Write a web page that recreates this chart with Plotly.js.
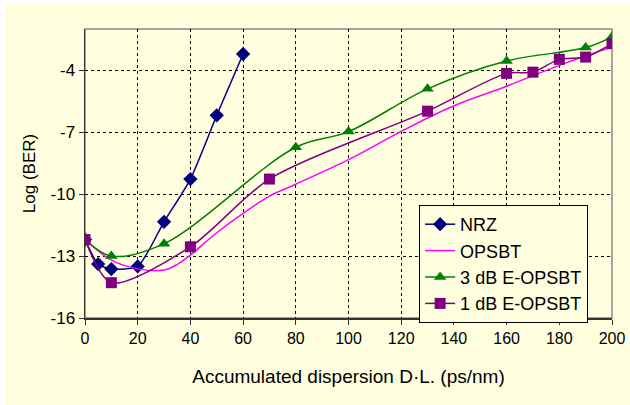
<!DOCTYPE html>
<html>
<head>
<meta charset="utf-8">
<script src="https://cdn.plot.ly/plotly-3.0.1.min.js"></script>
<style>
html,body{margin:0;padding:0;background:#ffffff;}
#chart{position:absolute;left:6px;top:4px;width:624px;height:401px;}
</style>
</head>
<body>
<div id="chart"></div>
<script>
// Data
const nrzX = [0, 5, 10, 20, 30, 40, 50, 60];
const nrzY = [-12.2, -13.39, -13.63, -13.5, -11.34, -9.27, -6.18, -3.21];

const opsbtX = [0, 10, 20, 30, 35, 40, 50, 60, 70, 80, 100, 120, 140, 160, 180, 200];
const opsbtY = [-12.2, -13.2, -13.62, -13.68, -13.4, -12.95, -11.87, -10.93, -10.1, -9.52, -8.33, -6.96, -5.72, -4.77, -3.76, -2.87];

const e3X = [0, 10, 30, 80, 100, 130, 160, 190, 200];
const e3Y = [-12.2, -13.0, -12.4, -7.73, -6.97, -4.9, -3.55, -2.9, -2.38];

const e1X = [0, 10, 40, 70, 130, 160, 170, 180, 190, 200];
const e1Y = [-12.2, -14.29, -12.55, -9.27, -5.98, -4.15, -4.09, -3.47, -3.36, -2.71];

const names = ['NRZ', 'OPSBT', '3 dB E-OPSBT', '1 dB E-OPSBT'];
const xTicks = [0, 20, 40, 60, 80, 100, 120, 140, 160, 180, 200];
const yTicks = [-16, -13, -10, -7, -4];

const bg = '#FFFFE0';
const font = 'Liberation Sans, Arial, sans-serif';

const traces = [
  {x: nrzX, y: nrzY, name: names[0], type: 'scatter', mode: 'lines+markers',
   line: {color: '#000080', width: 1.5, shape: 'spline', smoothing: 0.6},
   marker: {symbol: 'diamond', size: 11, color: '#000080'}},
  {x: opsbtX, y: opsbtY, name: names[1], type: 'scatter', mode: 'lines',
   line: {color: '#FF00FF', width: 1.5, shape: 'spline', smoothing: 1}},
  {x: e3X, y: e3Y, name: names[2], type: 'scatter', mode: 'lines+markers',
   line: {color: '#008000', width: 1.5, shape: 'spline', smoothing: 1},
   marker: {symbol: 'triangle-up', size: 11, color: '#008000'}},
  {x: e1X, y: e1Y, name: names[3], type: 'scatter', mode: 'lines+markers',
   line: {color: '#800080', width: 1.5, shape: 'spline', smoothing: 0.8},
   marker: {symbol: 'square', size: 11, color: '#800080'}}
];

const layout = {
  width: 624, height: 401,
  paper_bgcolor: bg, plot_bgcolor: bg,
  margin: {l: 79, r: 18, t: 25, b: 87},
  font: {family: font, color: '#000', size: 16},
  showlegend: true,
  legend: {x: 0.634, y: 0.391, xanchor: 'left', yanchor: 'top',
           bgcolor: bg, bordercolor: '#000', borderwidth: 1,
           font: {size: 18, family: font}, tracegroupgap: 0},
  xaxis: {range: [0, 200], tickvals: xTicks, ticktext: xTicks.map(String),
          showgrid: true, gridcolor: '#000', griddash: 'dot', gridwidth: 1,
          zeroline: false, showline: true, linecolor: '#333', linewidth: 1.5,
          ticks: 'outside', ticklen: 5, tickcolor: '#333',
          tickfont: {size: 16},
          title: {text: 'Accumulated dispersion D·L. (ps/nm)', font: {size: 19}, standoff: 24}},
  yaxis: {range: [-16, -2], tickvals: yTicks, ticktext: yTicks.map(String),
          showgrid: true, gridcolor: '#000', griddash: 'dot', gridwidth: 1,
          zeroline: false, showline: true, linecolor: '#333', linewidth: 1.5,
          ticks: 'outside', ticklen: 5, tickcolor: '#333',
          tickfont: {size: 17},
          title: {text: 'Log (BER)', font: {size: 17}, standoff: 10}},
  shapes: [{type: 'rect', xref: 'paper', yref: 'paper', x0: 0, x1: 1, y0: 0, y1: 1,
            line: {color: '#888', width: 1.5}, layer: 'below'}]
};

Plotly.newPlot('chart', traces, layout, {displayModeBar: false, staticPlot: true});
</script>
</body>
</html>
